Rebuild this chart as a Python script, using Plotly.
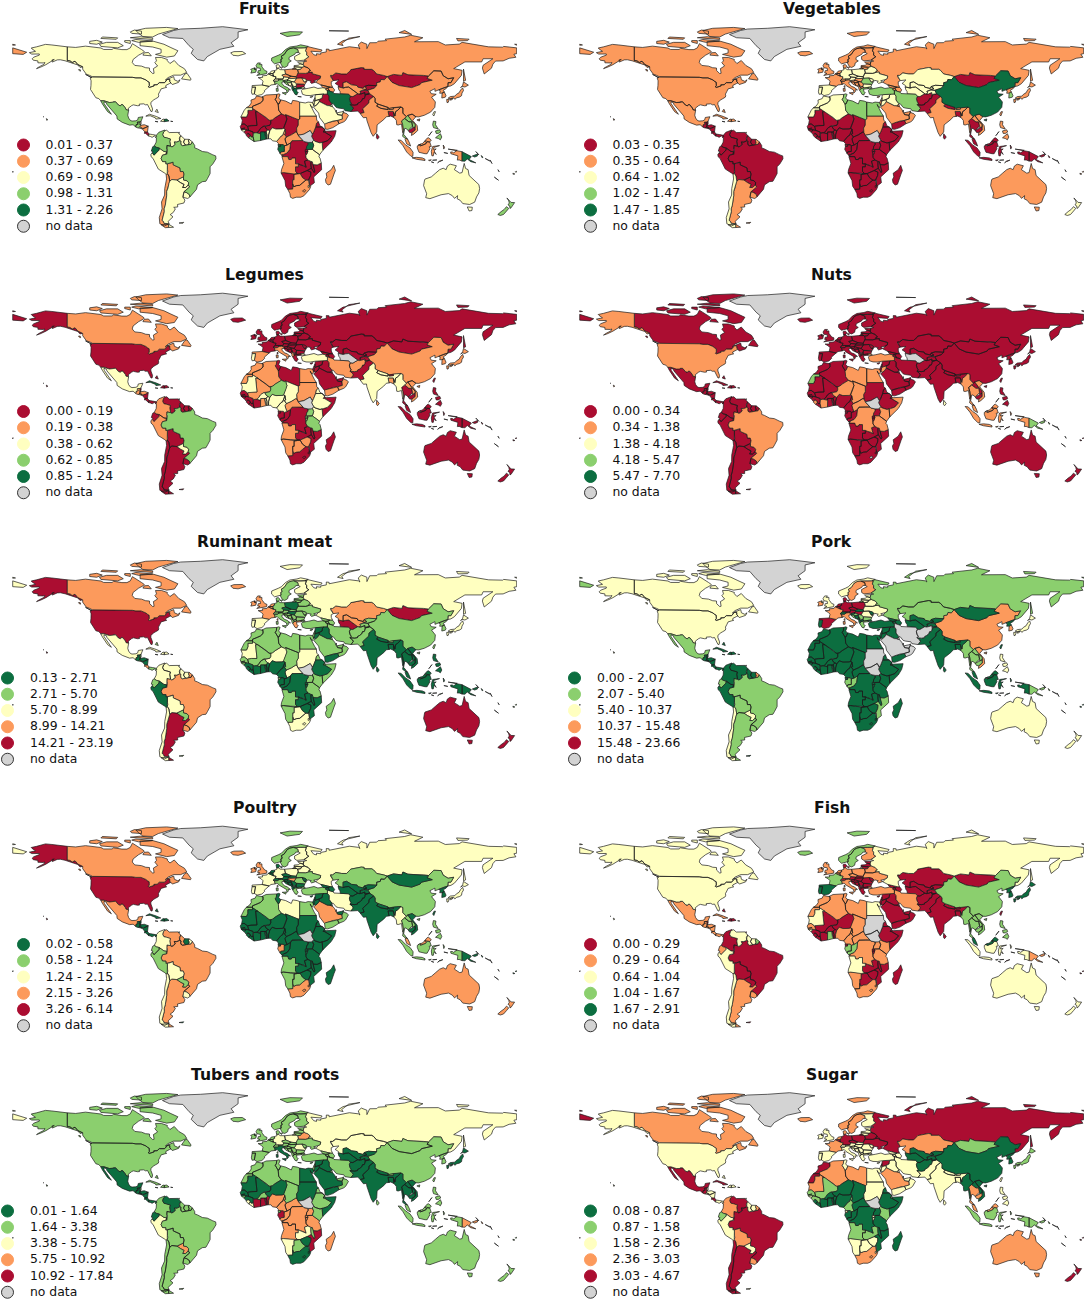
#!/usr/bin/env python3
# Food group choropleths. Geo subplots need a topojson from the CDN, so the
# country outlines live here as rough lon,lat rings and are drawn as filled scatter.
import plotly.graph_objects as go

COUNTRY_SHAPES = {
    "USA": ["-123,49 -95,49 -94.6,48.7 -92,48.3 -89.6,48 -88.4,48.3 -84.9,46.9 -84.5,46.5 -83.6,46.1 -83.5,45.8 -82.5,45.3 -82.1,43.6 -82.4,43 -83.1,42.1 -82.4,41.7 -79,42.8 -79.2,43.5 -76.8,43.6 -76.4,44.1 -75.3,45 -71.5,45 -71.1,45.3 -70.4,45.9 -70,46.7 -69.2,47.4 -68.2,47.4 -67.8,47.1 -67.8,45.7 -67,44.8 -68,44.4 -70.1,43.7 -70.6,43.1 -70.8,42.3 -70,41.8 -71.5,41.4 -74,40.7 -74.9,38.9 -75.9,37.1 -75.7,36 -76,35 -77.9,33.9 -79.2,33.2 -81.3,31.4 -81.3,30 -80.1,26.9 -80.4,25.2 -81.2,25.1 -81.8,26.1 -82.8,28 -83.7,29.9 -85.1,29.7 -86.4,30.4 -89.6,30.2 -89.4,29.2 -90.9,29.1 -93.8,29.7 -95,29.2 -97.4,27.4 -97.2,25.9 -99.1,26.4 -99.5,27.5 -101.4,29.8 -102.5,29.8 -103.1,29 -104.5,29.6 -106.5,31.8 -108.2,31.8 -108.2,31.3 -111,31.3 -114.8,32.5 -117.1,32.5 -118.5,34 -120.6,34.6 -122,36.8 -122.5,37.8 -123.7,39 -124.4,40.3 -124.1,43 -124,46.3 -124.7,48.4",
            "-141,69.7 -141,60.3 -139,60 -137.5,58.9 -135.5,59.8 -133.5,57.5 -130,55.9 -131.9,55.5 -133.5,57.2 -136.6,58.2 -139.9,59.5 -142.6,60.1 -146,60.8 -148.2,60.7 -151.7,59.2 -151.9,60.7 -150.3,61 -153.3,58.9 -156.3,57.4 -160.3,55.6 -163,54.7 -161,56 -157.7,57.6 -157,58.9 -158.2,58.6 -162,58.7 -162,60 -165.3,60.5 -166.1,61.5 -164.9,62.6 -161,64 -161,64.8 -166.4,64.7 -168.1,65.7 -163.7,66.6 -166.2,68.3 -166.8,68.9 -163,69.7 -156.6,71.4 -152,71 -145,70",
            "-156,20.2 -154.9,19.5 -155.7,19", "-158.2,21.6 -157.7,21.3 -158.1,21.3"],
    "CAN": ["-123,49 -95,49 -94.6,48.7 -92,48.3 -89.6,48 -88.4,48.3 -84.9,46.9 -84.5,46.5 -83.6,46.1 -83.5,45.8 -82.5,45.3 -82.1,43.6 -82.4,43 -83.1,42.1 -82.4,41.7 -79,42.8 -79.2,43.5 -76.8,43.6 -76.4,44.1 -75.3,45 -71.5,45 -71.1,45.3 -70.4,45.9 -70,46.7 -69.2,47.4 -68.2,47.4 -67.8,47.1 -67.8,45.7 -67,44.8 -66,43.7 -61.5,45.2 -60.5,47 -62,45.9 -64.5,47 -65,49.2 -71,46.8 -69,48.5 -67,49.3 -65,50.2 -60,50.2 -55.7,52.1 -57.3,54.6 -61.4,56.9 -64.6,60.3 -67.7,58.2 -69.6,60.2 -69.5,61 -73.8,62.4 -78,62.4 -77.3,60 -78.5,58.8 -76.5,56.5 -79.5,54.7 -79,51.5 -80,51.3 -82.2,53.3 -82.3,55.1 -85,55.3 -88,56.4 -92.8,56.9 -94.6,58.9 -94,61 -90,64 -87,65.5 -86,66.5 -88,67.9 -90,69.3 -92.9,70.7 -94.5,71.9 -96,69 -98.4,67.8 -102,67.8 -108,68.7 -109,67.9 -115,67.9 -117,68.9 -125,70 -128,70.2 -135,69.3 -141,69.7 -141,60.3 -139,60 -137.5,58.9 -135.5,59.8 -133.5,57.5 -130,55.9 -130,54.3 -128,52 -127.4,50.8 -125,50",
            "-80,73.7 -72,71.5 -67,69.2 -62,67 -64.5,63.4 -70,62.6 -78,64.5 -74,65.5 -74,68 -80,69.6 -89,70.5 -89,73.3",
            "-117,70 -105,69 -101,70.5 -105,72.8 -113,72.8 -118,71.5", "-125,72 -120,71.5 -116,73 -120,74.2 -125,73.5",
            "-90,79 -87,76.8 -80,76.5 -76,78.5 -62,82.3 -70,83.1 -85,82.5 -92,81", "-96,76 -80,74.8 -80,75.8 -89,76.7",
            "-117,75.5 -106,74.9 -105,75.9 -116,76.5", "-95,79 -88,78.5 -88,80.5 -93,81.3 -96,80", "-87,64 -81,63.5 -83,65.8 -86,65.6",
            "-59.4,47.6 -53,46.7 -52.6,47.5 -55.5,51.5 -57,51", "-128,50.7 -123.5,48.4 -125,49", "-100,73 -96,72 -96,74 -100,74",
            "-95,74 -90,72.8 -80,73.7 -92,74.8", "-133,54 -131.8,54 -131.5,53 -132,52.9"],
    "GRL": ["-73,78.2 -68,76 -58.5,75.5 -54,70.5 -51,68 -52.5,65.2 -48,61 -43.5,60 -41,63 -32,68 -22,70.1 -24,72.5 -19,76 -19,80 -12,81.5 -30,83.6 -46,82.5 -60,82 -65,81"],
    "ISL": ["-24.3,65.6 -22,66.4 -16,66.5 -13.6,65 -19,63.5 -22.7,63.9"],
    "MEX": ["-117.1,32.5 -114.8,32.5 -111,31.3 -108.2,31.3 -108.2,31.8 -106.5,31.8 -104.5,29.6 -103.1,29 -102.5,29.8 -101.4,29.8 -99.5,27.5 -99.1,26.4 -97.2,25.9 -97.8,22.5 -97.2,20.6 -96,19 -94.8,18.5 -92,18.7 -90.7,19.4 -90.3,21 -87,21.5 -87.5,19.5 -88.3,18.5 -89.1,17.9 -91,17.8 -91,17.2 -90.4,16.4 -91.7,16.1 -92.2,14.5 -94,16 -96.5,15.7 -101.7,17.6 -105.4,20 -105.6,22 -109,25.6 -110.7,27.5 -112.7,30 -113.1,31.2 -114.8,31.8 -114.7,30.5 -112.5,27.5 -110,24 -109.5,23.2 -112.2,25 -114.5,27.8 -115.9,30.3"],
    "GTM": ["-92.2,14.5 -91.7,16.1 -90.4,16.4 -91,17.2 -91,17.8 -89.1,17.9 -89.2,15.9 -88.2,15.7 -89.4,14.4 -90.1,13.8 -91.2,13.9"],
    "BLZ": ["-89.1,17.9 -88.3,18.5 -88.3,16.5 -89.2,15.9"],
    "SLV": ["-90.1,13.8 -89.4,14.4 -87.8,13.9 -87.8,13.2"],
    "HND": ["-89.2,15.9 -88.2,15.7 -86,16 -83.2,15 -85,14 -87.3,13 -87.8,13.2 -87.8,13.9 -89.4,14.4"],
    "NIC": ["-87.3,13 -85,14 -83.2,15 -83.7,11 -85.7,11.1"],
    "CRI": ["-85.7,11.1 -83.7,11 -82.6,9.6 -83,8.2 -85,10 -85.9,10"],
    "PAN": ["-83,8.2 -82.6,9.6 -80,9.2 -77.4,8.7 -77.2,7.9 -77.9,7.2 -78.5,8.4 -80.4,7.3 -81.7,7.9"],
    "CUB": ["-84.9,21.9 -82.3,23.2 -77.5,21.7 -74.2,20.3 -77.7,19.9 -78,20.7 -81.8,22.2"],
    "HTI": ["-74.4,18.4 -72.6,19.9 -71.7,19.7 -71.7,18.1"],
    "DOM": ["-71.7,19.7 -70,19.9 -68.3,18.6 -71.5,17.7 -71.7,18.1"],
    "JAM": ["-78.3,18.3 -76.2,18 -77.5,17.8"],
    "PRI": ["-67.2,18.4 -65.6,18.2 -67,18"],
    "BHS": ["-78.2,25.1 -77,26.7 -76,24.4"],
    "TTO": ["-61.6,10.7 -60.9,10.8 -61,10.1"],
    "COL": ["-77.4,8.7 -75.6,10.8 -74.2,11.3 -72.2,12 -71.3,12.4 -71.3,11.8 -72.2,11.1 -72.9,9.1 -72,7.4 -70,7 -67.3,6.1 -67.8,4.5 -67.5,2.8 -67.2,1.2 -69.8,1.7 -69.8,0.6 -70,-0.2 -69.5,-1 -70,-4.3 -70.4,-3.8 -70,-2.7 -72,-2.4 -73.7,-1.3 -75.3,-0.1 -77.4,0.4 -78.9,1.4 -77.5,4 -77.3,7 -77.9,7.2 -77.2,7.9"],
    "VEN": ["-71.3,11.8 -70,12.2 -68.2,10.6 -64.3,10.4 -62,10.7 -60,8.5 -60.6,7.1 -61,6.7 -60.7,5.2 -60.7,4.9 -62.8,4 -64.6,4.1 -63.9,2.4 -65.3,1.1 -66.3,0.7 -67.2,1.2 -67.5,2.8 -67.8,4.5 -67.3,6.1 -70,7 -72,7.4 -72.9,9.1 -72.2,11.1"],
    "GUY": ["-60,8.5 -58.4,6.8 -57.1,6 -58,4 -57.6,3.3 -56.5,1.9 -58.7,1.5 -59.8,2.2 -60,3.6 -59.7,4.4 -60.7,5.2 -61,6.7 -60.6,7.1"],
    "SUR": ["-57.1,6 -54,5.9 -54.5,4.9 -54,3.6 -54.5,2.3 -56.5,1.9 -57.6,3.3 -58,4"],
    "BRA": ["-51.7,4.2 -50,1.7 -50,0 -48,-0.7 -44.5,-2.5 -41,-2.9 -37,-4.8 -35,-5.5 -34.8,-7.5 -37,-11 -39,-13 -39,-17.7 -40.8,-21 -42,-23 -44.6,-23.3 -48,-25.5 -48.7,-28.5 -52.3,-32.2 -53.4,-33.8 -53.8,-32.2 -55.6,-30.9 -57.6,-30.2 -53.6,-26.9 -54.6,-25.6 -54.3,-24 -55.6,-22.6 -58,-22.1 -58,-20 -57.6,-18 -58.2,-16.3 -60.2,-16.3 -60.5,-13.8 -65.3,-11.7 -65.4,-9.8 -68,-10.7 -69.5,-10.9 -70.6,-11 -70.5,-9.5 -73,-9.4 -74,-7.3 -73,-5 -70,-4.3 -69.5,-1 -70,-0.2 -69.8,0.6 -69.8,1.7 -67.2,1.2 -66.3,0.7 -65.3,1.1 -63.9,2.4 -64.6,4.1 -62.8,4 -60.7,4.9 -59.7,4.4 -60,3.6 -59.8,2.2 -58.7,1.5 -56.5,1.9 -54.5,2.3 -52.6,2.5"],
    "ECU": ["-78.9,1.4 -77.4,0.4 -75.3,-0.1 -75.5,-1.5 -77,-3 -78.6,-4.5 -79,-5 -80.3,-3.4 -79.8,-2.6 -81,-2.2 -80,0.8"],
    "PER": ["-75.3,-0.1 -73.7,-1.3 -72,-2.4 -70,-2.7 -70.4,-3.8 -70,-4.3 -73,-5 -74,-7.3 -73,-9.4 -70.5,-9.5 -70.6,-11 -69.5,-10.9 -69.4,-15 -69.2,-16.4 -69.6,-17.6 -70.4,-18.3 -71.4,-17.4 -76,-14.6 -78,-10.4 -79.8,-7.2 -81.2,-6 -81.3,-4.3 -80.3,-3.4 -79,-5 -78.6,-4.5 -77,-3 -75.5,-1.5"],
    "BOL": ["-69.5,-10.9 -68,-10.7 -65.4,-9.8 -65.3,-11.7 -60.5,-13.8 -60.2,-16.3 -58.2,-16.3 -57.6,-18 -58,-20 -62.7,-22.2 -64,-22 -66.3,-21.8 -67.8,-22.9 -68.4,-19.4 -69.6,-17.6 -69.2,-16.4 -69.4,-15"],
    "PRY": ["-58,-20 -58,-22.1 -55.6,-22.6 -54.3,-24 -54.6,-25.6 -56.5,-27.3 -58.6,-27.3 -57.6,-25.2 -60,-24 -62.7,-22.2"],
    "URY": ["-57.6,-30.2 -55.6,-30.9 -53.8,-32.2 -53.4,-33.8 -55,-34.9 -58.4,-34 -58.1,-32"],
    "ARG": ["-66.3,-21.8 -64,-22 -62.7,-22.2 -60,-24 -57.6,-25.2 -58.6,-27.3 -56.5,-27.3 -54.6,-25.6 -53.6,-26.9 -57.6,-30.2 -58.1,-32 -58.4,-34 -57,-36 -57.7,-38 -62.3,-39 -62.1,-40.7 -65,-41 -63.8,-42 -65.3,-44.5 -67.5,-46 -65.5,-47.5 -69,-50.7 -68.2,-52.3 -71.9,-52 -72.3,-50.7 -73.3,-50 -71.7,-44 -71.8,-42 -71,-39.5 -70.3,-36 -70,-33 -70,-30 -69,-27.5 -68.4,-24.5 -67.8,-22.9",
            "-68.6,-52.6 -65.1,-54.7 -68.6,-54.9"],
    "CHL": ["-69.6,-17.6 -68.4,-19.4 -67.8,-22.9 -68.4,-24.5 -69,-27.5 -70,-30 -70,-33 -70.3,-36 -71,-39.5 -71.8,-42 -71.7,-44 -73.3,-50 -72.3,-50.7 -71.9,-52 -68.4,-52.3 -71.5,-53.8 -74.9,-52.3 -75.3,-48 -73.3,-42 -73.7,-37.3 -71.5,-32.5 -71.4,-28 -70.1,-21.4 -70.4,-18.3",
            "-68.6,-52.6 -68.6,-54.9 -71,-55 -74,-53"],
    "FLK": ["-61.2,-51.8 -57.8,-51.3 -58.5,-52"],
    "PRT": ["-9,41.9 -8.2,41.9 -6.5,41.9 -7,39.6 -7.4,37.2 -9,37 -9.5,38.7"],
    "ESP": ["-9,43 -1.8,43.4 3.2,42.4 0.7,40.7 -0.3,39.4 0,38.7 -2,36.8 -5.4,36.1 -7.4,37.2 -7,39.6 -6.5,41.9 -8.2,41.9 -9,41.9"],
    "FRA": ["-1.8,43.4 3.2,42.4 4.5,43.4 7.5,43.8 7,45.9 6,46.3 7.5,47.6 8.1,49 6.2,49.5 4.8,50 2.5,51.1 1.6,50 -1.2,49.4 -1.8,49.7 -1.5,48.6 -4.7,48.5 -2.5,47.3 -1.2,46",
            "8.6,42.3 9.4,43 9.5,41.6", "-54,5.9 -51.7,4.2 -52.6,2.5 -54.5,2.3 -54,3.6 -54.5,4.9"],
    "BEL": ["2.5,51.1 3.4,51.4 5.7,51.3 6,50.2 6.2,49.5 4.8,50"],
    "LUX": ["6.2,49.5 6,50.2 6.5,49.8"],
    "NLD": ["3.4,51.4 4.7,53 7,53.3 7.1,52.2 6,51.7 5.7,51.3"],
    "DEU": ["7,53.3 8.8,54 8.5,55 9.9,54.9 11,54 14.2,53.9 14.6,52 15,51 12.2,50.3 13.6,48.9 13,47.5 9.6,47.5 7.5,47.6 8.1,49 6.2,49.5 6,50.2 5.7,51.3 6,51.7 7.1,52.2"],
    "CHE": ["6,46.3 7.5,47.6 9.6,47.5 10.4,46.9 9,46 7,45.9"],
    "AUT": ["9.6,47.5 13,47.5 13.6,48.9 17,48.6 17.1,48 16.3,46.9 13.8,46.5 12.2,47 10.4,46.9"],
    "ITA": ["7.5,43.8 8.9,44.4 10.4,42.9 12.4,41.7 15.5,40 16,38 17,39 16.6,40 18.4,40 16,41.8 14,42.5 12.4,44.3 12.3,45.4 13.7,45.7 13.8,46.5 12.2,47 10.4,46.9 9,46 7,45.9",
            "12.5,38 15.5,38.2 15,36.7", "8.2,41 9.6,41 9.6,39.1 8.4,39"],
    "DNK": ["8.5,55 9.9,54.9 10.9,56.4 9.6,57.5 8.1,57", "11,55.7 12.7,55.6 12,54.8"],
    "GBR": ["-5.7,50 1.4,51.2 1.6,52.8 0,53.4 -1.6,55.5 -2,56 -2,57.6 -4,57.6 -3,58.6 -5,58.6 -6.2,56.8 -5.6,55.3 -3.2,54.9 -3,53.4 -4.6,53.3 -5,51.7 -3.4,51.4",
            "-7.3,55.2 -5.7,54.6 -6,54 -7.3,54.2"],
    "IRL": ["-6,53.8 -6.4,52.2 -9.9,51.6 -9.2,53.2 -10,54.2 -8.5,55 -7.3,55.2 -7.3,54.2"],
    "NOR": ["7,58 11,59 11.8,59.2 11.5,61 12.5,61.5 11.9,63.3 13.9,64.4 16.1,67.5 18,68.5 20.5,69 21,69 25.7,68.9 28.9,69.1 31.1,70 25.7,71.1 23,70.3 18,69.6 14.8,67.8 12,65 10,64 5,62 4.9,60 5.7,59",
            "11,79 16,76.8 25,78 27,80 18,80.2"],
    "SWE": ["11,59 12.7,56 14.3,55.5 16.4,56.7 16.8,58.6 19,60 17.3,61 17.5,62.5 21.4,64.5 22.2,65.7 24,65.8 23.6,67.8 20.5,69 18,68.5 16.1,67.5 13.9,64.4 11.9,63.3 12.5,61.5 11.5,61 11.8,59.2"],
    "FIN": ["24,65.8 25.4,65.1 21.3,63 21.4,61 23,60 28,60.5 31.5,62.9 29.9,64 30,65.7 29.1,66.9 29.8,69 28.9,69.1 25.7,68.9 21,69 20.5,69 23.6,67.8"],
    "EST": ["23.5,59.2 28,59.5 27.5,57.5 25.2,58 24.4,58.4"],
    "LVA": ["21,56.8 21,56 26.5,55.6 28.2,56.2 27.5,57.5 25.2,58 24,57"],
    "LTU": ["21,56 21.1,55.3 22.8,54.4 23.5,54 25.7,54.3 26.5,55.6"],
    "POL": ["14.2,53.9 18.6,54.7 19.7,54.4 22.8,54.4 23.5,54 24,52 23.5,50.5 22.5,49.1 19,49.4 15,51 14.6,52"],
    "BLR": ["23.5,54 25.7,54.3 26.5,55.6 28.2,56.2 31,55.2 32.7,53.4 31.5,53 31.7,52.1 29.3,51.4 23.6,51.5 24,52"],
    "UKR": ["23.6,51.5 29.3,51.4 31.7,52.1 34,52.3 34,51.2 38,50 40,49.6 39.7,47.9 38.2,47.1 35,46.3 36.5,45.4 33.5,44.5 32.5,45.4 33.3,46 30.7,46.6 29.6,45.3 28.2,45.5 30,46.4 29.2,47.5 26.6,48.2 22.7,48 22.5,49.1 23.5,50.5"],
    "MDA": ["26.6,48.2 29.2,47.5 30,46.4 28.2,45.5"],
    "ROU": ["22.7,48 26.6,48.2 28.2,45.5 29.6,45.3 28.6,43.7 27.7,44 22.7,44.2 21,45.5"],
    "BGR": ["22.7,44.2 27.7,44 28.6,43.7 28,42 26.1,41.8 22.9,41.3 22.4,42.3"],
    "HUN": ["17.1,48 18,47.8 22.7,48 21,45.5 18.8,45.9 16.3,46.9"],
    "SVK": ["17,48.6 19,49.4 22.5,49.1 22.7,48 18,47.8 17.1,48"],
    "CZE": ["12.2,50.3 15,51 19,49.4 17,48.6 13.6,48.9"],
    "SVN": ["13.8,46.5 16.3,46.9 16.3,46.2 15.5,45.5 13.7,45.5"],
    "HRV": ["13.7,45.5 15.5,45.5 16.3,46.2 16.3,46.9 18.8,45.9 19,45 16,45 17.5,42.9 15,44"],
    "BIH": ["16,45 19,45 19.4,44 18.5,42.5 17.5,42.9"],
    "SRB": ["18.8,45.9 21,45.5 22.7,44.2 22.4,42.3 21.5,42.3 20,42.8 19.4,44 19,45"],
    "MNE": ["18.5,42.5 19.4,44 20,42.8 19.4,41.9"],
    "ALB": ["19.4,41.9 20,42.8 20.6,41.9 21,40.6 20,39.7 19.4,40.6"],
    "MKD": ["20.6,41.9 21.5,42.3 22.4,42.3 22.9,41.3 21,40.9"],
    "GRC": ["20,39.7 21,40.6 21,40.9 22.9,41.3 26.1,41.8 26,40.8 23.5,40.2 22.7,40.5 23,39 24,38 23.3,37.6 23,36.5 21.7,36.9 21,38.5",
            "23.6,35.5 26.2,35.2 24,35"],
    "TUR": ["26.2,39.5 27,37 29.5,36.2 32.5,36.1 36.2,36.7 38,36.8 42.3,37.2 44.8,37.2 44.8,39.7 43.6,40 43.6,41.1 41.5,41.5 38,41 35.2,42 31.5,41.2 29,41 27,40.4",
            "26,40.8 26.1,41.8 28,42 29,41.2 27,40.9"],
    "CYP": ["32.3,35 33,35.4 34.6,35.7 33.5,34.7"],
    "RUS": ["31,69.8 33,69.4 41,67.5 40,66.2 33,66.7 35,64.3 37,63.8 37,65 40,64.6 40,65.5 44,66.2 44,68.2 46,68 46,67 54,68.5 60.5,69.8 67,69 68,68.2 66.8,71 69,73 73,71.5 73,68.5 75,72.5 80,72.6 81,73.6 87,74 86,75 100,76.5 104.3,77.7 113,76 107,73.2 113.5,73.4 124,73.3 129,71 139,71.6 141,72.8 150,71.5 160,69.7 170,69.5 170.7,70 180,69 180,65 178,64.6 179.4,62.5 174.6,61.8 170.3,60 164.9,59.9 163,57.8 162,55 156.8,51 155.5,55 156,57 163,61.5 160,61.5 156,61.5 155,59.3 143,59.3 135,54.7 141,53.5 140.5,50 135.5,44.3 133,42.8 130.7,42.3 131,43 131,45 133,45 135,48.4 131,47.7 127.5,49.8 126,53 120.8,53.2 117,49.6 113.5,50 106,50.3 102.3,50.5 98.7,52 98,50 92,50.7 87.5,49.2 85,50 80,51 77.8,53.4 76.5,54.2 71,54.2 71,55.2 69,55.4 61.5,54 61,53 58.5,51 55,51 50.8,51.7 48.5,50 47,50 47,49.2 49,46.4 47.5,45.6 47.6,43.7 48.5,41.8 46.7,41.9 40,43.5 36.6,45.2 38.2,47.1 39.7,47.9 40,49.6 38,50 34,51.2 34,52.3 31.7,52.1 31.5,53 32.7,53.4 31,55.2 28.2,56.2 27.5,57.5 28,59.5 30,59.9 28,60.5 31.5,62.9 29.9,64 30,65.7 29.1,66.9 29.8,69 28.9,69.1",
            "19.7,54.4 22.8,54.4 21.1,55.3", "-180,69 -175,67.5 -170,66 -172.5,64.5 -180,65",
            "142,54.4 143.4,49 143.5,46.6 142,46 142,50", "52,71.5 56,74 68,76.8 60,75.7 55,72 56,70.6",
            "96,79.5 105,78.3 100,81", "137,75.5 146,75 145,74 138,73.8", "46,80.8 60,80.6 54,80.2", "-180,71.5 -178,71 -180,70.8", "178.5,71.5 180,71.5 180,70.8"],
    "KAZ": ["50.8,51.7 55,51 58.5,51 61,53 61.5,54 69,55.4 71,55.2 71,54.2 76.5,54.2 77.8,53.4 80,51 85,50 87.5,49.2 85.5,47 83,47.2 82.5,45.5 80,45 80,42.9 74,43.2 71,42.3 70.4,41 66.5,41.9 66,43 62,43.5 58.5,45.6 56,45 56,41.3 53,42 52.5,41.8 52.7,43 50.3,44.5 51,45 53,46.9 49,46.4 47,49.2 47,50 48.5,50"],
    "UZB": ["56,45 58.5,45.6 62,43.5 66,43 66.5,41.9 70.4,41 71,42.3 73,40.9 70.6,40.2 68,39 68.4,38.2 67.8,37.1 66.5,37.4 64.2,38.9 61,41.3 60,42 57.8,41.8 56,41.3"],
    "TKM": ["53,42 56,41.3 57.8,41.8 60,42 61,41.3 64.2,38.9 66.5,37.4 64.5,36.3 63,35.4 61.2,35.6 60,37 54,37.3 53.8,39 53,40 52.5,41.8"],
    "KGZ": ["71,42.3 74,43.2 80,42.9 78.2,41.2 73.8,39.8 71,39.9 70.6,40.2 73,40.9"],
    "TJK": ["67.8,37.1 68.4,38.2 68,39 70.6,40.2 71,39.9 73.8,39.5 75,37.4 71.5,36.9 71.5,38.2 70.2,37.7 69.2,37.2"],
    "AFG": ["61.2,35.6 63,35.4 64.5,36.3 66.5,37.4 67.8,37.1 69.2,37.2 70.2,37.7 71.5,38.2 71.5,36.9 75,37.4 71.8,36.5 71.5,35 71,34 69.9,34 69.3,32.5 67.7,31.3 66.4,30.7 66.3,29.9 64.3,29.5 60.9,29.8 61.8,30.7 60.9,32.2 60.5,34"],
    "PAK": ["60.9,29.8 64.3,29.5 66.3,29.9 66.4,30.7 67.7,31.3 69.3,32.5 69.9,34 71,34 71.5,35 71.8,36.5 75,37.4 77.8,35.5 74.5,33 74.4,31 70,27 71,24.4 68.2,23.7 66.5,25.4 61.6,25.1 63.3,27.2 62.7,28.3"],
    "IRN": ["44.8,39.7 44.8,37.2 46,35.7 46,33 48,30.5 49,30.4 51,28 52.5,27.5 56.5,27 57.3,25.7 61.6,25.1 63.3,27.2 62.7,28.3 60.9,29.8 61.8,30.7 60.9,32.2 60.5,34 61.2,35.6 60,37 54,37.3 53.9,36.9 49.5,37.5 48.9,38.4 46.5,38.9"],
    "IRQ": ["42.3,37.2 44.8,37.2 46,35.7 46,33 48,30.5 47.9,30 46.5,29.1 44.7,29.2 39,32 38.8,33.4 41,34.4 41.3,36.4"],
    "SYR": ["36.2,36.7 38,36.8 42.3,37.2 41.3,36.4 41,34.4 38.8,33.4 36,32.5 35.7,33 36,33.5 35.9,35"],
    "LBN": ["35.1,33.1 35.7,33 36,33.5 35.9,34.7"],
    "ISR": ["34.3,31.3 35,29.5 35.5,31.5 35.7,33 35.1,33.1"],
    "JOR": ["35,29.5 36.5,29.2 38,30.5 39,32 38.8,33.4 36,32.5 35.5,31.5"],
    "SAU": ["35,28 36.5,29.2 38,30.5 39,32 44.7,29.2 46.5,29.1 48.4,28.5 50,26.7 50.8,25 51.6,24.2 52,23 55.2,22.5 55.5,20 52,19 49,18.6 45.2,17.4 43.3,17 42.8,16.4 39.2,21 38.5,24"],
    "YEM": ["43.2,13 42.8,16.4 43.3,17 45.2,17.4 49,18.6 52,19 53.1,16.7 48.7,14 45,12.8"],
    "OMN": ["55.5,20 55.2,22.5 56,24 56.4,24.9 56.8,24.2 58.7,23.6 59.8,22.4 57.8,19 56.5,18 53.1,16.7 52,19"],
    "ARE": ["51.6,24.2 52,23 55.2,22.5 56,24 56.4,25.5 55,24.9"],
    "QAT": ["51,24.6 51.6,25.8 51.2,26.1 50.8,25"],
    "KWT": ["46.5,29.1 48.4,28.5 48,30 47.9,30"],
    "GEO": ["40,43.5 46.7,41.9 45,41.3 43.6,41.1 41.5,41.5"],
    "ARM": ["43.6,41.1 45,41.3 46.5,39 44.8,39.7 43.6,40"],
    "AZE": ["45,41.3 46.7,41.9 48.5,41.8 50,40 49,38.4 48.9,38.4 46.5,38.9 46.5,39"],
    "IND": ["74.4,31 74.5,33 77.8,35.5 78.9,34 78.8,31.5 81,30.2 80,28.8 83,27.3 88.1,26.4 88.1,27.9 88.8,27.2 88.9,26.5 92,26.8 91.7,27.8 94,28 97.3,28.2 95,26 93.5,25 93,22 92,24.5 91.8,25.2 88.1,25.2 88.8,21.7 86.9,21.5 85,19.5 80.3,15.9 80,11 77.5,8 76,10.5 73,19 72.7,21 70.5,20.8 69,22.5 68.2,23.7 71,24.4 70,27"],
    "NPL": ["80,28.8 81,30.2 88.1,27.9 88.1,26.4 83,27.3"],
    "BTN": ["88.8,27.2 91.7,27.8 92,26.8 88.9,26.5"],
    "BGD": ["88.1,25.2 91.8,25.2 92,24.5 92.3,21 90,22 88.8,21.7"],
    "LKA": ["80,9.8 81.8,7.5 80.6,6 79.8,7"],
    "MMR": ["97.3,28.2 98.7,27.5 98.7,24 101.2,21.5 100,20.3 97.8,18.6 98.6,16 99.2,12 98.6,10.5 97.7,16.5 95.4,15.8 94.3,16 94,19 92.3,21 92,24.5 93,22 93.5,25 95,26"],
    "THA": ["100,20.3 101.2,19.5 103,18 105,18 105.6,15 102.5,12.1 100.9,13.4 100,13.4 99.2,9.2 100.3,8.3 101,6.9 102,6.2 100.5,6.5 98.5,8 99.2,12 98.6,16 97.8,18.6"],
    "LAO": ["101.2,21.5 102.2,22.4 104.8,19 107.5,16 107.5,14.6 105.6,14 105.6,15 105,18 103,18 101.2,19.5 100,20.3"],
    "VNM": ["102.2,22.4 105.3,23.3 108,21.5 105.7,19 108.9,15.3 109.3,12 106.5,9.5 104.8,8.6 105.1,10.5 107.5,12.3 107.5,14.6 107.5,16 104.8,19"],
    "KHM": ["102.5,12.1 105.6,14 107.5,14.6 107.5,12.3 105.1,10.5 103.5,10.6"],
    "MYS": ["101,6.9 102,6.2 103.4,3.5 104.2,1.3 101.4,2.8 100.3,5.8", "109.7,2 111.3,1.4 115,2.8 116,4.3 117.9,4.1 119,5.4 117,7 116,6.7 113,3.2 111.2,2.7"],
    "BRN": ["114.2,4.5 115.4,5 115,4"],
    "CHN": ["80,42.9 80,45 82.5,45.5 83,47.2 85.5,47 87.5,49.2 91,45.2 96,43 105,41.6 111,43.7 112,45 119.7,46.7 116,48 117,49.6 120.8,53.2 126,53 127.5,49.8 131,47.7 135,48.4 133,45 131,45 131,43 130.7,42.3 128,41.5 124.3,40 121.6,39 121.6,40.9 118,39.1 119,37.4 122.5,37 119.2,35 121.9,31.7 121.5,28 118.5,24.7 114,22.5 110,21.4 108,21.5 105.3,23.3 102.2,22.4 101.2,21.5 98.7,24 98.7,27.5 97.3,28.2 94,28 91.7,27.8 88.8,27.2 88.1,27.9 81,30.2 78.8,31.5 78.9,34 77.8,35.5 75,37.4 73.8,39.5 73.8,39.8 78.2,41.2",
            "108.7,19.3 110.8,20 110.5,18.5"],
    "TWN": ["121,25 122,25 120.8,22 120,23"],
    "MNG": ["87.5,49.2 92,50.7 98,50 98.7,52 102.3,50.5 106,50.3 113.5,50 117,49.6 116,48 119.7,46.7 112,45 111,43.7 105,41.6 96,43 91,45.2"],
    "PRK": ["124.3,40 128,41.5 130.7,42.3 129.7,41 127.5,39.7 128.3,38.6 126.7,37.8 125,37.7 125.4,39.4"],
    "KOR": ["126.7,37.8 128.3,38.6 129.5,36 129,35 126.5,34.4 126.5,37"],
    "JPN": ["141.4,41.4 142,39.6 140.9,37.8 140.6,36 139,35 137.2,34.6 135.8,33.5 135,34.6 132.6,34 131,34.3 132.6,35.4 135.8,35.7 137,37 138.8,38 140,40",
            "140,41.5 141.4,43.2 142,45.5 145.5,43.3 143,42 141,42.5", "130,33.5 131.9,33.5 131,31.3 130.2,31.3", "132.5,33.8 134.6,34.2 134,33.4 132.7,32.9"],
    "PHL": ["120.5,18.5 122.3,18.2 122,16 124,13 120.6,14 120,16", "122,7 125.5,9.8 126.5,7.5 125.5,5.6 124,6.5", "122,11.7 125,12.5 125.7,11 124,10 122.5,10", "117.2,8.4 119.5,11.3 119.5,10.5"],
    "IDN": ["95.3,5.5 97.5,5.2 100.6,2.1 103.8,0 106,-3 105.8,-5.8 104.5,-5.8 101.4,-2.8 98.7,1.6", "105.2,-6.8 108.5,-6.5 112.6,-6.9 114.5,-7.8 114.5,-8.7 108.3,-7.8",
            "109,1.4 109.7,2 111.2,2.7 111.3,1.4 115,2.8 116,4.3 117.9,4.1 119,1 117.5,0.8 118,-0.5 116.5,-3.5 116,-4 114.5,-4 111.7,-3 110.2,-3 109,0",
            "119.5,-0.5 120,1 124.9,1.6 121,0.4 120.5,-1 122.5,-0.7 121,-2 122.5,-4.5 121,-3 120.4,-5.5 119.4,-5.4 119,-2.5",
            "141,-2.6 141,-9.1 138.9,-8.3 137.6,-8.4 138,-5.5 133,-4 132.8,-2.8 134,-2.8 135,-3.4 137.5,-1.6 131,-0.8",
            "123.5,-10.3 125,-9.1 125,-9.4", "127.5,2 128.5,0.5 127.9,-0.8", "128,-3.2 130.8,-3.8 128,-3.5", "119,-9.6 120.8,-10.2 119.5,-9.4", "119.9,-8.5 123,-8.3 121,-8.9", "117,-8.5 119,-8.2 118,-8.9"],
    "TLS": ["125,-9.1 127.3,-8.4 125,-9.4"],
    "PNG": ["141,-2.6 145,-4.4 147.6,-6 146,-8 148,-9 150.8,-10.3 147.2,-9.5 144.7,-7.6 143,-9.2 141,-9.1", "148.3,-5.6 152,-4.2 152,-5.5 150,-6.3", "150.8,-2.5 153,-4.8 152.6,-4.9", "154.7,-5.2 155.9,-6.5 155.3,-6.8"],
    "SLB": ["157.5,-7.3 160.8,-9 159.6,-8.9", "160.9,-8.3 162.4,-10.8 161.5,-10.2"],
    "VUT": ["166.6,-15 167.5,-16.5 166.7,-16"],
    "NCL": ["164,-20.1 167,-22.3 165.5,-21.7"],
    "FJI": ["177.3,-17.4 178.7,-18 177.4,-18.2", "179,-16.4 180,-16.1 179.5,-16.9", "-180,-16.5 -179.8,-16 -179.9,-16.9"],
    "AUS": ["114.2,-22 113.5,-26 115.7,-31.6 115,-34.3 118,-35 124,-33 126,-32.3 131.3,-31.5 134,-32.9 135.6,-34.8 137.8,-32.9 137.5,-35.1 139.6,-36.1 141.5,-38.4 146.4,-39 150,-37.4 151.3,-33.8 153,-31 153.5,-28 153,-25.3 150,-22.3 146,-19 145.3,-15 143.5,-14.2 142.5,-10.7 141.6,-13.5 141,-17 139.3,-17.4 135.5,-15 136.9,-12.3 132.5,-11.2 130.5,-12.5 129.6,-15 127.5,-14 125,-15 122.2,-17.3 119,-20 114.5,-21.5",
            "144.7,-40.7 148.3,-40.9 148,-43.2 146,-43.5 145.4,-42.2"],
    "NZL": ["172.7,-40.5 174.3,-41.7 172.8,-43.5 171,-45 170.6,-45.9 168.3,-46.6 166.5,-45.9 168.9,-43.9 171.1,-42.4", "173,-34.5 175.3,-36.7 176,-37.6 178.5,-37.7 177.5,-39.3 176,-41.3 175.2,-41.7 175,-40 173.8,-39.3 174.7,-38 174.3,-36.5"],
    "MDG": ["49.3,-12 50.5,-15.5 49.5,-18 47,-25 45.3,-25.6 43.8,-24 43.4,-21.8 44.4,-20 43.9,-17.5 47.5,-15"],
    "MAR": ["-5.9,35.8 -2,35.1 -1.2,34.9 -1.2,32.7 -3.1,31 -5.2,30 -8.7,28.7 -8.7,27.7 -13.1,27.7 -11,29 -9.6,31 -9.8,33 -6.8,34"],
    "ESH": ["-13.1,27.7 -8.7,27.7 -8.7,26 -12,26 -12,23.5 -13,21.3 -17,21.4 -16,23.7 -14.6,26"],
    "DZA": ["-1.2,34.9 -2,35.1 1,36.5 8.6,36.9 8.3,34.6 7.5,33.5 9.5,30.3 9.8,29.4 10,26 11.9,23.5 7.5,20.9 5.7,19.5 4.3,19.1 3.2,19.1 1,21 -4.9,25 -8.7,27.3 -8.7,28.7 -5.2,30 -3.1,31 -1.2,32.7"],
    "TUN": ["8.6,36.9 10,37.3 11,36.9 10,34.5 11,33.2 11.5,33.1 10.2,30.3 9.5,30.3 7.5,33.5 8.3,34.6"],
    "LBY": ["11.5,33.1 15,32.3 19,30.3 20,32.8 23.2,32.3 25,31.6 25,22 25,20 24,19.5 15,23 14.2,22.6 11.9,23.5 10,26 9.8,29.4 9.5,30.3 10.2,30.3"],
    "EGY": ["25,31.6 29,31 31,31.6 32.3,31.3 34.3,31.3 35,29.5 34.2,27.8 33,28.6 32.5,30 32.6,29 33.6,27.7 35.6,23.9 36.9,22 25,22"],
    "MRT": ["-17,21.4 -13,21.3 -12,23.5 -12,26 -8.7,26 -8.7,27.3 -4.9,25 -6.5,25 -5.5,15.5 -9.5,15.5 -12,15 -12.2,14.8 -14.7,16.6 -16.5,16.2 -16,19"],
    "MLI": ["-4.9,25 1,21 3.2,19.1 4.3,19.1 4.3,16.9 3.6,15.6 1,15 0.2,14.9 -0.5,15.1 -2,14.2 -3,13.5 -4,12 -5.5,10.4 -6.2,10.5 -8,10.2 -8.3,11 -11.4,12.1 -12.2,14.8 -12,15 -9.5,15.5 -5.5,15.5 -6.5,25"],
    "NER": ["4.3,19.1 5.7,19.5 7.5,20.9 11.9,23.5 14.2,22.6 15,23 15.5,20.9 15.9,20 15.3,17.9 13.5,14 13.5,13.4 12.3,13.1 8,13 5.4,13.9 3.7,12 3.6,11.7 2.2,12.5 1,13.3 0.2,14.9 1,15 3.6,15.6 4.3,16.9"],
    "TCD": ["15,23 24,19.5 24,15.7 22.8,13.7 23,10.7 22.3,11 19,9 15.5,7.5 14,9.6 15,10 14.5,12.9 13.5,13.4 13.5,14 15.3,17.9 15.9,20 15.5,20.9"],
    "SDN": ["24,19.5 25,20 25,22 36.9,22 37.2,19 38.4,18 37,17 36.4,14.4 35,11 34,9.5 32.5,12 28,9.5 24,8.7 23,10.7 22.8,13.7 24,15.7"],
    "SSD": ["24,8.7 28,9.5 32.5,12 34,9.5 33.5,8 35,5.3 33.5,3.8 31,3.8 28,4.4 27.4,5.1 24.4,8"],
    "ERI": ["36.4,14.4 37,17 38.4,18 39.3,15.5 43,12.6 41,14.5 38.4,14.4"],
    "DJI": ["41.8,11 42.8,12.5 43.3,11.5 42.8,10.9"],
    "ETH": ["36.4,14.4 38.4,14.4 41,14.5 43,12.6 42.8,12.5 41.8,11 42.8,10.9 47.8,8 45,5 42,4 41,3.9 39.5,3.4 36,4.5 35,5.3 33.5,8 34,9.5 35,11"],
    "SOM": ["42.8,10.9 43.3,11.5 51,11.9 50,8 47.5,4 41.5,-1.7 41,3.9 42,4 45,5 47.8,8"],
    "KEN": ["39.5,3.4 41,3.9 41.5,-1.7 39.2,-4.7 34,-1 35,1.9 34,4.2 35,5.3 36,4.5"],
    "UGA": ["31,3.8 33.5,3.8 34,4.2 35,1.9 34,-1 30.5,-1.1 29.6,-1.4 30,1 31,2.4"],
    "RWA": ["29,-1.3 30.5,-1.1 30.8,-2.3 29,-2.7"],
    "BDI": ["29,-2.7 30.8,-2.3 30,-4.4 29.4,-4.4"],
    "TZA": ["34,-1 39.2,-4.7 38.7,-6.2 39.5,-7 40.4,-10.4 37.5,-11.7 34.6,-11.5 34,-9.5 32.8,-9.2 30.8,-8.3 29.5,-6.5 29.4,-4.4 30,-4.4 30.8,-2.3 30.5,-1.1"],
    "COD": ["12.3,-6 14,-5.9 16.5,-6 17.2,-8 19,-8 19.5,-7 22,-7 22,-11 24,-11 25.7,-11.7 28,-12.3 29.6,-13.3 28.4,-9.2 30.8,-8.3 29.5,-6.5 29.4,-4.4 29,-2.7 29,-1.3 29.6,-1.4 30,1 31,2.4 31,3.8 28,4.4 27.4,5.1 24.4,5.1 19.5,5 18.5,3.5 17.9,-1 16,-3.5 13.5,-4.5 12.8,-5.8"],
    "COG": ["11,-3.9 12,-5 13.5,-4.5 16,-3.5 17.9,-1 18.5,3.5 16,2 14,1.4 14,-0.5 14,-2.4 11.5,-2.7"],
    "GAB": ["9.3,-1 9.8,1 11.3,1 11.3,2.2 13.3,2.2 14,1.4 14,-0.5 14,-2.4 11.5,-2.7 11,-3.9"],
    "GNQ": ["9.6,2.2 11.3,2.2 11.3,1 9.8,1"],
    "CMR": ["8.5,4.5 9.2,4 9.8,3 9.6,2.2 13.3,2.2 14,1.4 16,2 15,4.2 14.5,6.2 15.5,7.5 14,9.6 15,10 14.5,12.9 12.8,8.7 11.7,8.2"],
    "CAF": ["15.5,7.5 19,9 22.3,11 23,10.7 24,8.7 24.4,8 27.4,5.1 24.4,5.1 19.5,5 18.5,3.5 16,2 15,4.2 14.5,6.2"],
    "NGA": ["2.7,6.3 4.4,6.3 5.6,4.9 8.5,4.5 11.7,8.2 12.8,8.7 14.5,12.9 13.5,13.4 12.3,13.1 8,13 5.4,13.9 3.7,12 3.6,11.7 2.8,9"],
    "BEN": ["1.6,6.2 2.7,6.3 2.8,9 3.6,11.7 2.2,12.5 1,11 1.6,9"],
    "TGO": ["1.2,6.1 1.6,6.2 1.6,9 1,11 0,11 0.5,7.5"],
    "GHA": ["-3,5.1 1.2,6.1 0.5,7.5 0,11 -2.9,11 -2.9,9.7"],
    "CIV": ["-7.6,4.4 -3,5.1 -2.9,9.7 -5.5,10.4 -6.2,10.5 -8,10.2 -8.3,7.7"],
    "BFA": ["-5.5,10.4 -2.9,9.7 -2.9,11 0,11 1,11 2.2,12.5 1,13.3 0.2,14.9 -0.5,15.1 -2,14.2 -3,13.5 -4,12"],
    "LBR": ["-11.4,6.9 -7.6,4.4 -8.3,7.7 -9.5,7.4 -10.2,8.4"],
    "SLE": ["-13.2,8.5 -11.4,6.9 -10.2,8.4 -10.7,9.3 -12,10 -13.2,9"],
    "GIN": ["-14.7,10.9 -13.2,9 -12,10 -10.7,9.3 -10.2,8.4 -9.5,7.4 -8.3,7.7 -8,10.2 -8.3,11 -11.4,12.1 -13.7,12.6 -13.7,11.8"],
    "GNB": ["-16.7,12.4 -13.7,12.6 -13.7,11.8 -14.7,10.9 -15,11"],
    "SEN": ["-17.5,14.7 -16.5,16.2 -14.7,16.6 -12.2,14.8 -11.4,12.1 -13.7,12.6 -16.7,12.4 -16.8,13.2"],
    "GMB": ["-16.8,13.2 -14,13.3 -14,13.7 -16.7,13.6"],
    "AGO": ["12.3,-6 13,-9 13.7,-10.7 12,-15 11.7,-17.3 13.4,-17 18.3,-17.4 21,-18 23.3,-17.6 22,-16.2 22,-13 24,-13 24,-11 22,-11 22,-7 19.5,-7 19,-8 17.2,-8 16.5,-6 14,-5.9", "12,-5 12.8,-4.7 12.8,-5.7"],
    "ZMB": ["22,-13 24,-13 24,-11 25.7,-11.7 28,-12.3 29.6,-13.3 28.4,-9.2 30.8,-8.3 32.8,-9.2 33,-9.5 33,-12 33.3,-14 30.3,-15.6 28,-16.5 25.3,-17.7 23.3,-17.6 22,-16.2"],
    "MWI": ["33,-9.5 34,-9.5 34.6,-11.5 35,-14 35.8,-16 35.3,-17 34.3,-15.5 33.3,-14 33,-12"],
    "ZWE": ["25.3,-17.7 28,-16.5 30.3,-15.6 33,-16.7 32.8,-19 31.2,-22.3 29.4,-22.2 27,-20.5"],
    "MOZ": ["34.6,-11.5 37.5,-11.7 40.4,-10.4 40.7,-15 35,-20 35.5,-24 32.8,-26 32,-25.8 32,-22.3 31.2,-22.3 32.8,-19 33,-16.7 30.3,-15.6 33.3,-14 34.3,-15.5 35.3,-17 35.8,-16 35,-14"],
    "NAM": ["11.7,-17.3 13.4,-17 18.3,-17.4 23.3,-17.6 25.3,-17.7 23.3,-18 21,-18.3 21,-22 20,-22 20,-28.4 16.5,-28.6 15,-26.5 14.5,-22.5"],
    "BWA": ["20,-24.8 20,-22 21,-22 21,-18.3 23.3,-18 25.3,-17.7 27,-20.5 29.4,-22.2 26.8,-24.3 25,-25.8 22.8,-26 20.7,-26.8"],
    "ZAF": ["16.5,-28.6 20,-28.4 20,-24.8 20.7,-26.8 22.8,-26 25,-25.8 26.8,-24.3 29.4,-22.2 31.2,-22.3 32,-25.8 32.8,-26 32.8,-26.8 32,-28.7 28,-33 25.8,-34 22.5,-34 20,-34.8 18.4,-34 18,-31.5"],
    "LSO": ["27,-29.6 28.7,-28.7 29.4,-29.5 28,-30.6"],
    "SWZ": ["31,-26 32,-25.8 32,-27 31,-27.2"],
}
# drawn last, they sit inside or on top of a neighbour
ENCLAVES = ["LSO", "SWZ", "GMB", "LUX", "RWA", "BDI", "MDA", "QAT", "KWT", "LBN", "ISR", "BTN", "GNQ", "BRN", "TLS"]

# legend classes, by colour: R O Y L(ight green) G(reen) N(o data)
FRUITS_LABELS = ["0.01 - 0.37", "0.37 - 0.69", "0.69 - 0.98", "0.98 - 1.31", "1.31 - 2.26", "no data"]
VEGETABLES_LABELS = ["0.03 - 0.35", "0.35 - 0.64", "0.64 - 1.02", "1.02 - 1.47", "1.47 - 1.85", "no data"]
LEGUMES_LABELS = ["0.00 - 0.19", "0.19 - 0.38", "0.38 - 0.62", "0.62 - 0.85", "0.85 - 1.24", "no data"]
NUTS_LABELS = ["0.00 - 0.34", "0.34 - 1.38", "1.38 - 4.18", "4.18 - 5.47", "5.47 - 7.70", "no data"]
RUMINANT_LABELS = ["0.13 - 2.71", "2.71 - 5.70", "5.70 - 8.99", "8.99 - 14.21", "14.21 - 23.19", "no data"]
PORK_LABELS = ["0.00 - 2.07", "2.07 - 5.40", "5.40 - 10.37", "10.37 - 15.48", "15.48 - 23.66", "no data"]
POULTRY_LABELS = ["0.02 - 0.58", "0.58 - 1.24", "1.24 - 2.15", "2.15 - 3.26", "3.26 - 6.14", "no data"]
FISH_LABELS = ["0.00 - 0.29", "0.29 - 0.64", "0.64 - 1.04", "1.04 - 1.67", "1.67 - 2.91", "no data"]
TUBERS_LABELS = ["0.01 - 1.64", "1.64 - 3.38", "3.38 - 5.75", "5.75 - 10.92", "10.92 - 17.84", "no data"]
SUGAR_LABELS = ["0.08 - 0.87", "0.87 - 1.58", "1.58 - 2.36", "2.36 - 3.03", "3.03 - 4.67", "no data"]

FRUITS = {"default": "Y",
          "R": "KAZ MNG PAK AFG KGZ TJK IRQ UKR BGR BGD LKA KHM CRI MRT MLI NER TCD BFA GIN SLE SEN GMB ETH SOM ERI DJI COD RWA BDI ZMB MOZ MWI ZWE NAM",
          "O": "RUS CHN IND NPL BTN TKM UZB MMR VNM MYS IDN TLS JPN KOR PRK MAR DZA TUN LBY SDN YEM OMN AZE ARM GEO ROU POL BLR BOL CHL HND NIC CMR CAF COG AGO BWA ZAF LSO MDG SVK CZE",
          "L": "BRA COL MEX SWE NOR GBR IRL ITA THA LAO PHL GTM LBR NZL HRV SVN CIV",
          "G": "IRN ECU GHA TGO GAB UGA GRC PNG ALB DOM GNQ SLB",
          "N": "GRL SSD"}
VEGETABLES = {"default": "O",
              "R": "COL VEN GUY SUR BRA ECU PER BOL PRY GTM HND NIC SLV CRI PAN BLZ PAK AFG MNG BGD NPL THA KHM MYS BRN IDN TLS PNG SLB LKA MRT MLI NER TCD BFA SEN GMB GIN GNB SLE LBR CIV TGO BEN NGA GHA CAF CMR GNQ GAB COG COD AGO ZMB ZWE NAM BWA ZAF LSO SWZ MOZ MWI TZA UGA KEN RWA BDI ETH ERI DJI SOM YEM MDG",
              "Y": "KAZ UZB TKM KGZ TJK DZA MAR ESH CHL NZL POL UKR BLR DEU ESP PRT SYR IRQ JOR LBN BGR MDA SVK CZE AUT",
              "L": "TUN LBY EGY TUR IRN ROU GRC KOR",
              "G": "CHN",
              "N": "GRL SSD"}
LEGUMES = {"default": "R",
           "O": "CAN COL PER ESP ITA MAR DZA ESH MLI EGY SDN CAF AGO NAM BWA ZWE IRN AFG CHN BGD LAO VNM JPN KOR PRK LKA GTM HND SLV GHA OMN YEM ALB",
           "Y": "MEX TUR IND MMR NPL MRT TCD NGA BFA BEN CMR TGO ETH KEN PRY PRT ERI",
           "L": "BRA NER UGA TZA RWA BDI",
           "G": "CUB",
           "N": "GRL SSD TKM"}
NUTS = {"default": "R",
        "O": "USA BRA LBY EGY TUR JOR NER TCD CAF COD TZA SOM KEN CIV SLE GMB MMR THA VNM IDN MYS",
        "Y": "LKA",
        "L": "PNG ESH",
        "N": "GRL SSD TKM LSO"}
RUMINANT = {"default": "L",
            "R": "USA MNG AUS NZL ARG TKM",
            "O": "CAN BRA KAZ FRA GBR IRL ISL URY UZB GRC CRI BEL NLD",
            "Y": "RUS NOR FIN MEX VEN COL BOL CHL GUY SUR ESP PRT MRT NER SDN CAF BWA ZAF LSO SWZ JPN CUB DOM HTI",
            "G": "IND BGD NPL MMR LAO THA VNM KHM MYS PHL IDN PNG PER COD MOZ ZWE MWI ZMB ETH NGA CIV GHA TGO BEN LBR SLE GIN COG GAB CMR POL IRQ SYR JOR GTM HND NIC LKA YEM BDI RWA CZE HUN",
            "N": "GRL SSD"}
PORK = {"default": "G",
        "R": "ESP DEU POL AUT DNK BEL NLD CZE HUN",
        "O": "CHN FRA ITA IRL SWE FIN KOR VNM",
        "Y": "USA CAN ISL NOR GBR AUS NZL JPN PHL PRY CHL BLR UKR ROU LTU LVA EST",
        "L": "RUS KAZ BRA ARG MEX BOL URY MMR THA LAO KHM GAB COG MOZ PNG BGR GRC HRV SRB ECU",
        "N": "GRL SSD SDN IRN SAU AFG OMN KWT ARE QAT"}
POULTRY = {"default": "G",
           "R": "USA",
           "O": "CAN BRA MEX ARG AUS NZL SAU ZAF LSO SWZ VEN GUY GBR IRL MYS BRN GAB ISL HUN",
           "Y": "RUS FIN IRN LBY COL BOL URY ESP PRT FRA DEU POL MMR JPN CHL BLR LTU LVA EST",
           "L": "KAZ CHN DZA MAR ESH EGY TUR PER ECU PRY YEM OMN AGO NAM BWA IDN THA LAO PHL ROU UKR NOR SWE ITA GRC",
           "N": "GRL SSD"}
FISH = {"default": "R",
        "O": "MEX GTM HND NIC SLV CRI PAN CUB ARG URY ECU MAR ESH DZA LBY TCD TUN TUR IRN POL BLR UKR DEU ITA GBR IRL NLD BEL CZE FIN NGA CMR COD TZA UGA KEN NAM ZAF LSO SWZ PNG SEN CAF",
        "Y": "USA CAN RUS AUS NZL VEN GUY SUR PER CHL EGY MRT AGO GNB IDN",
        "L": "FRA NOR SWE CHN MMR THA LAO VNM PHL ISL GHA GAB COG KHM",
        "G": "ESP PRT JPN KOR MYS PRK",
        "N": "GRL SSD SDN"}
TUBERS = {"default": "L",
          "R": "MOZ GHA CIV BEN TGO GAB",
          "O": "BLR NGA CMR CAF COD AGO TZA UGA RWA BDI COG MDG PRY PNG",
          "Y": "RUS KAZ PER POL ROU NAM ZMB DEU LBR SLE",
          "G": "MEX GTM HND NIC SLV CRI PAN VEN ECU IND PAK AFG BGD NPL MMR LAO THA VNM KHM IRQ SAU EGY SDN MRT MLI NER SEN GMB GIN UZB TJK KGZ TKM JPN ITA ZAF LSO SWZ ZWE SOM YEM JOR SYR",
          "N": "GRL SSD"}
SUGAR = {"default": "Y",
         "R": "RUS MEX CUB BRA VEN ARG CHL MAR ESH NZL POL UKR BLR GTM CRI SYR LBN DEU BEL CZE FJI",
         "O": "CAN KAZ COL BOL AUS SAU LBY DZA MRT ZAF SWE FRA THA MYS ISL URY NOR NLD KHM DNK LSO",
         "L": "MNG MLI SEN GIN AGO ZMB KEN IDN PNG CMR JPN ECU",
         "G": "CHN UZB TKM TJK KGZ AFG MMR VNM LAO NER TCD CAF COD ETH SOM ERI TZA UGA MOZ MWI MDG GHA CIV NGA BFA BEN TGO GAB COG SLE LBR KOR PRK",
         "N": "GRL SSD"}

RED_FIRST = ["R", "O", "Y", "L", "G", "N"]
GREEN_FIRST = ["G", "L", "Y", "O", "R", "N"]

PANELS = [
    ("Fruits", FRUITS_LABELS, FRUITS, RED_FIRST),
    ("Vegetables", VEGETABLES_LABELS, VEGETABLES, RED_FIRST),
    ("Legumes", LEGUMES_LABELS, LEGUMES, RED_FIRST),
    ("Nuts", NUTS_LABELS, NUTS, RED_FIRST),
    ("Ruminant meat", RUMINANT_LABELS, RUMINANT, GREEN_FIRST),
    ("Pork", PORK_LABELS, PORK, GREEN_FIRST),
    ("Poultry", POULTRY_LABELS, POULTRY, GREEN_FIRST),
    ("Fish", FISH_LABELS, FISH, RED_FIRST),
    ("Tubers and roots", TUBERS_LABELS, TUBERS, GREEN_FIRST),
    ("Sugar", SUGAR_LABELS, SUGAR, GREEN_FIRST),
]

COLORS = {"R": "#ab0d31", "O": "#fc9a5c", "Y": "#ffffc0", "L": "#8bcf6e", "G": "#0c6e40", "N": "#d3d3d3"}
EDGE = "#1c1c1c"
FONT = "DejaVu Sans"
WIDTH, HEIGHT = 1084, 1299
CELL_W, CELL_H = 517, 266.5
COL_X = [0, 567]
PX_PER_LON, PX_PER_LAT = 1.4, 1.45
MAP_LEFT, MAP_TOP, TOP_LAT = 12.7, 26.7, 83.6


def lon_of(px: float) -> float:
    return -180 + (px - MAP_LEFT) / PX_PER_LON


def lat_of(py: float) -> float:
    return TOP_LAT - (py - MAP_TOP) / PX_PER_LAT


def rings_to_xy(codes: list[str]) -> tuple[list, list]:
    xs, ys = [], []
    for code in codes:
        for ring in COUNTRY_SHAPES[code]:
            pts = [p.split(",") for p in ring.split()]
            xs += [float(p[0]) for p in pts] + [float(pts[0][0]), None]
            ys += [float(p[1]) for p in pts] + [float(pts[0][1]), None]
    return xs, ys


def colour_groups(classes: dict) -> dict:
    listed = {}
    for colour, codes in classes.items():
        if colour != "default":
            for code in codes.split():
                listed[code] = colour
    groups = {c: [] for c in COLORS}
    for code in COUNTRY_SHAPES:
        groups[listed.get(code, classes["default"])].append(code)
    return groups


fig = go.Figure()
annotations = []
layout_axes = {}

for i, (title, labels, classes, order) in enumerate(PANELS):
    col, row = i % 2, i // 2
    n = i + 1
    left, top = COL_X[col], row * CELL_H
    xname = f"x{n}" if n > 1 else "x"
    yname = f"y{n}" if n > 1 else "y"
    bottom = min(top + CELL_H, HEIGHT)
    layout_axes[f"xaxis{n}"] = dict(domain=[left / WIDTH, (left + CELL_W) / WIDTH], range=[lon_of(0), lon_of(CELL_W)],
                                    visible=False, fixedrange=True, anchor=yname)
    layout_axes[f"yaxis{n}"] = dict(domain=[1 - bottom / HEIGHT, 1 - top / HEIGHT], range=[lat_of(bottom - top), lat_of(0)],
                                    visible=False, fixedrange=True, anchor=xname)

    groups = colour_groups(classes)
    for layer in (False, True):
        for colour, codes in groups.items():
            picked = [c for c in codes if (c in ENCLAVES) == layer]
            if not picked:
                continue
            xs, ys = rings_to_xy(picked)
            fig.add_trace(go.Scatter(x=xs, y=ys, mode="lines", fill="toself", fillcolor=COLORS[colour],
                                     line=dict(color=EDGE, width=0.7), hoverinfo="skip", showlegend=False,
                                     xaxis=xname, yaxis=yname))

    # legend drawn by hand: plotly's own legend can't get rows this close together
    wide = max(len(t) for t in labels) > 11
    key_px = 7.5 if wide else 23.5
    text_px = 30 if wide else 45.5
    key_y = [lat_of(145 + 16.25 * k) for k in range(6)]
    text_y = [lat_of(145.6 + 16.25 * k) for k in range(6)]
    fig.add_trace(go.Scatter(x=[lon_of(key_px)] * 6, y=key_y, mode="markers",
                             marker=dict(size=12, color=[COLORS[c] for c in order],
                                         line=dict(width=1, color=[COLORS[c] for c in order[:5]] + ["#333333"])),
                             hoverinfo="skip", showlegend=False, xaxis=xname, yaxis=yname))
    fig.add_trace(go.Scatter(x=[lon_of(text_px)] * 6, y=text_y, mode="text", text=labels, textposition="middle right",
                             textfont=dict(family=FONT, size=12.4, color="#111111"),
                             hoverinfo="skip", showlegend=False, xaxis=xname, yaxis=yname))
    annotations.append(dict(text=f"<b>{title}</b>", xref="paper", yref="paper", showarrow=False,
                            x=(left + MAP_LEFT + 252) / WIDTH, y=1 - (top + 8.5) / HEIGHT,
                            xanchor="center", yanchor="middle",
                            font=dict(family=FONT, size=15.6, color="#111111")))

fig.update_layout(width=WIDTH, height=HEIGHT, margin=dict(l=0, r=0, t=0, b=0), showlegend=False,
                  paper_bgcolor="white", plot_bgcolor="white", annotations=annotations, **layout_axes)

# the page's default body margin would push the fixed-size figure 8px off
fig.write_html("out.html", config={"displayModeBar": False}, post_script="document.body.style.margin='0';")
